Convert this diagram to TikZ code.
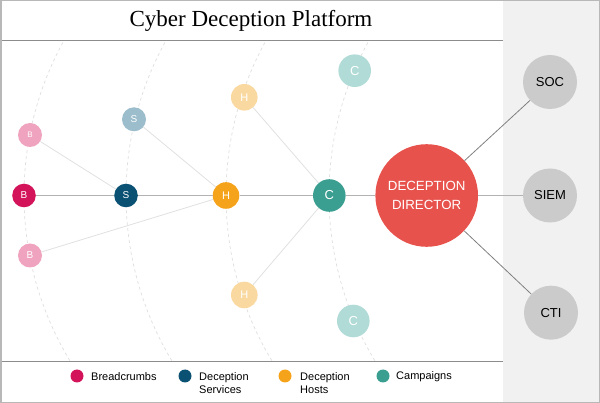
\documentclass[tikz,border=0pt]{standalone}
\usepackage{fontspec}
\setmainfont{Liberation Serif}
\setsansfont{Liberation Sans}
\usepackage{tikz}
\usetikzlibrary{positioning}

\definecolor{crumb}{HTML}{D4145A}
\definecolor{crumblt}{HTML}{EFA3BE}
\definecolor{service}{HTML}{0B5173}
\definecolor{servicelt}{HTML}{9CBDCC}
\definecolor{host}{HTML}{F5A31B}
\definecolor{hostlt}{HTML}{FAD9A1}
\definecolor{campaign}{HTML}{3A9E90}
\definecolor{campaignlt}{HTML}{B0DBD6}
\definecolor{director}{HTML}{E8524C}
\definecolor{outside}{HTML}{CBCBCB}
\definecolor{panel}{HTML}{F1F1F1}

\begin{document}
\begin{tikzpicture}[
    x=1pt,y=-1pt,
    font=\sffamily,
    dot/.style={circle,inner sep=0pt,text=white,font=\sffamily\fontsize{10}{12}\selectfont},
    hostdot/.style={dot,minimum size=26.6pt,font=\sffamily\fontsize{11}{13}\selectfont},
    campdot/.style={dot,minimum size=32.6pt,font=\sffamily\fontsize{13}{15}\selectfont},
    extdot/.style={circle,inner sep=0pt,fill=outside,minimum size=54pt,font=\sffamily\fontsize{13}{15}\selectfont},
    legdot/.style={circle,inner sep=0pt,minimum size=13pt},
    legtext/.style={inner sep=0pt,align=left,font=\sffamily\fontsize{11}{13}\selectfont},
    rule/.style={draw=black!45,line width=1pt},
    arcline/.style={draw=black!13,dashed,dash pattern=on 3pt off 3pt,line width=0.7pt},
    mainlink/.style={draw=black!30,line width=1.5pt},
    faintlink/.style={draw=black!12,line width=0.8pt},
    extlink/.style={draw=black!50,line width=0.8pt}
]
\useasboundingbox (0,0) rectangle (600,403);
\fill[panel] (503,0) rectangle (600,403);
\draw[rule] (0,41) -- (503,41);
\draw[rule] (0,362) -- (503,362);

% rings, one per layer
\begin{scope}
\clip (0,41) rectangle (503,362);
\foreach \x in {24,126,226,329}
  \draw[arcline] (\x+320,195.5) circle[radius=320pt];
\end{scope}

\node[font=\rmfamily\fontsize{23}{27}\selectfont] (title) at (251,21) {Cyber Deception Platform};

\node[dot,fill=crumb,minimum size=23.6pt] (b) at (24,195.5) {B};
\node[dot,fill=crumblt,minimum size=24pt,font=\sffamily\fontsize{8}{10}\selectfont] (b1) at (30,135) {B};
\node[dot,fill=crumblt,minimum size=24pt] (b2) at (30,255.5) {B};
\node[dot,fill=service,minimum size=23.6pt] (s) at (126,195.5) {S};
\node[dot,fill=servicelt,minimum size=24pt] (s1) at (134,119.3) {S};
\node[hostdot,fill=host] (h) at (226,195.5) {H};
\node[hostdot,fill=hostlt] (h1) at (244.3,97.3) {H};
\node[hostdot,fill=hostlt] (h2) at (244.3,295) {H};
\node[campdot,fill=campaign] (c) at (329.3,195.5) {C};
\node[campdot,fill=campaignlt] (c1) at (354.7,70.7) {C};
\node[campdot,fill=campaignlt] (c2) at (353.3,321) {C};
\node[circle,inner sep=0pt,fill=director,text=white,minimum size=102.6pt,align=center,
      font=\sffamily\fontsize{13.3}{19}\selectfont] (dir) at (426.7,195.5) {DECEPTION\\DIRECTOR};

\node[extdot] (soc) at (550,82) {SOC};
\node[extdot] (siem) at (550,195.5) {SIEM};
\node[extdot] (cti) at (551,312.7) {CTI};

\draw[faintlink] (b1) -- (s);
\draw[faintlink] (b2) -- (h);
\draw[faintlink] (s1) -- (h);
\draw[faintlink] (h1) -- (c);
\draw[faintlink] (h2) -- (c);
\draw[mainlink] (b) -- (s) -- (h) -- (c) -- (dir) -- (siem);
\draw[extlink] (dir) -- (soc);
\draw[extlink] (dir) -- (cti);

% legend
\node[legdot,fill=crumb] (lcrumb) at (77,376) {};
\node[legdot,fill=service] (lservice) at (185,376) {};
\node[legdot,fill=host] (lhost) at (285,376) {};
\node[legdot,fill=campaign] (lcamp) at (383,376) {};
\node[legtext,anchor=west] (tcrumb) at (91,377) {Breadcrumbs};
\node[legtext,anchor=north west] (tservice) at (199,372.5) {Deception\\Services};
\node[legtext,anchor=north west] (thost) at (300,372.5) {Deception\\Hosts};
\node[legtext,anchor=west] (tcamp) at (396,377) {Campaigns};

\draw[draw=black!28,line width=1.5pt] (0.75,0.75) rectangle (599.25,402.25);
\end{tikzpicture}
\end{document}
